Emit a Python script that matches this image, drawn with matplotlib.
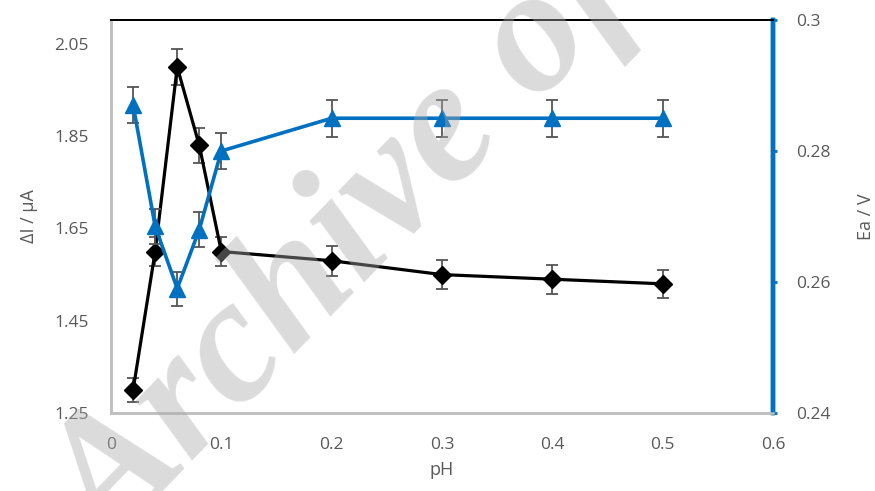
import numpy as np
import matplotlib
matplotlib.use("Agg")
import matplotlib.pyplot as plt

# pH values and measured responses
ph = [0.02, 0.04, 0.06, 0.08, 0.1, 0.2, 0.3, 0.4, 0.5]
delta_i = [1.30, 1.60, 2.00, 1.83, 1.60, 1.58, 1.55, 1.54, 1.53]
delta_i_err = [0.026, 0.032, 0.040, 0.037, 0.032, 0.032, 0.031, 0.031, 0.031]
ea = [0.287, 0.2685, 0.259, 0.268, 0.280, 0.285, 0.285, 0.285, 0.285]
ea_err = [0.0028, 0.0027, 0.0026, 0.0027, 0.0028, 0.0028, 0.0028, 0.0028, 0.0028]

x_ticks = [0, 0.1, 0.2, 0.3, 0.4, 0.5, 0.6]
x_labels = ["0", "0.1", "0.2", "0.3", "0.4", "0.5", "0.6"]
left_ticks = [1.25, 1.45, 1.65, 1.85, 2.05]
left_labels = ["1.25", "1.45", "1.65", "1.85", "2.05"]
right_ticks = [0.24, 0.26, 0.28, 0.30]
right_labels = ["0.24", "0.26", "0.28", "0.3"]

plt.rcParams['font.family'] = ['Open Sans', 'DejaVu Sans']
txt_col = '#595959'
blue = '#0070C0'
grey = '#bfbfbf'

fig = plt.figure(figsize=(8.75, 4.91), dpi=100)
ax = fig.add_axes([0.1269, 0.1589, 0.7565, 0.8004])
ax2 = ax.twinx()

ax.errorbar(ph, delta_i, yerr=delta_i_err, fmt='none', ecolor='#555555',
            elinewidth=1.3, capsize=4.2, capthick=1.3, zorder=2)
ax.plot(ph, delta_i, color='black', lw=2.3, marker='D', ms=9.5,
        markerfacecolor='black', markeredgecolor='black', zorder=3)

ax2.errorbar(ph, ea, yerr=ea_err, fmt='none', ecolor='#555555',
             elinewidth=1.3, capsize=4.2, capthick=1.3, zorder=2)
ax2.plot(ph, ea, color=blue, lw=2.6, marker='^', ms=12,
         markerfacecolor=blue, markeredgecolor=blue, zorder=3)

ax.set_xlim(0, 0.6)
ax.set_ylim(1.25, 2.102)
ax2.set_ylim(0.24, 0.30)

ax.set_xticks(x_ticks)
ax.set_xticklabels(x_labels)
ax.set_yticks(left_ticks)
ax.set_yticklabels(left_labels)
ax2.set_yticks(right_ticks)
ax2.set_yticklabels(right_labels)

ax.tick_params(axis='x', length=0, pad=17, labelsize=12.5, labelcolor=txt_col)
ax.tick_params(axis='y', length=0, pad=16, labelsize=12.5, labelcolor=txt_col)
ax2.tick_params(axis='y', length=3, width=2, color=blue, pad=14,
                labelsize=12.5, labelcolor=txt_col)

for a in (ax, ax2):
    a.spines['left'].set_color(grey)
    a.spines['left'].set_linewidth(1.8)
    a.spines['bottom'].set_color(grey)
    a.spines['bottom'].set_linewidth(1.8)
    a.spines['top'].set_color('black')
    a.spines['top'].set_linewidth(1.4)
    a.spines['right'].set_color(blue)
    a.spines['right'].set_linewidth(3.2)

ax.set_xlabel('pH', fontsize=13, color=txt_col, labelpad=6)
ax.set_ylabel('ΔI / μA', fontsize=13, color=txt_col, labelpad=12)
ax2.set_ylabel('Ea / V', fontsize=13, color=txt_col, labelpad=19)

# watermark over the plot
fig.text(0.127, -0.13, 'Archive of SID', fontsize=128, rotation=46,
         rotation_mode='anchor', ha='left', va='baseline',
         family='Liberation Serif', weight='bold', style='italic',
         color='#aaaaaa', alpha=0.42, zorder=10)

plt.savefig('out.png', dpi=100)
plt.close()
